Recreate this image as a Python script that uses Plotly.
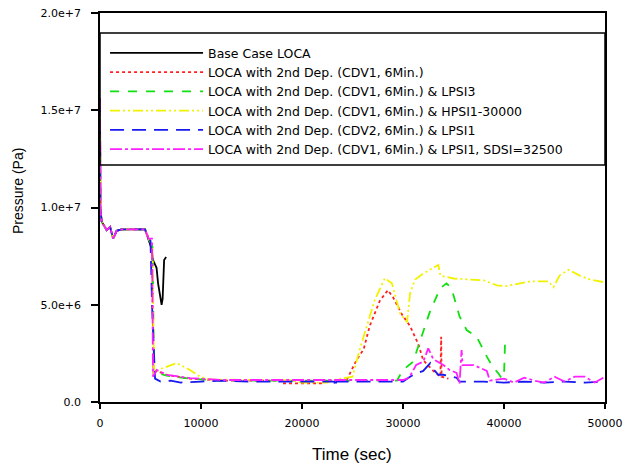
import plotly.graph_objects as go

# ---- data ----
t_init = [0, 40, 170, 660, 1000, 1300, 1650, 2150, 4455, 4800]
p_init = [1.56e7, 9.9e6, 9.27e6, 8.84e6, 9.0e6, 8.4e6, 8.8e6, 8.88e6, 8.88e6, 8.4e6]

base_t = t_init + [5100, 5250, 5600, 5750, 5950, 6100, 6200, 6350, 6550]
base_p = p_init + [7.9e6, 7.3e6, 6.9e6, 6.1e6, 5.5e6, 5.0e6, 5.3e6, 7.3e6, 7.45e6]

red_t = t_init + [5150, 5300, 5600, 6600, 8900, 12000, 18000, 18100, 22100, 22200,
                  24400, 25400, 26100, 26700, 27700, 28500, 29000, 29900, 30700, 31500,
                  32000, 33000, 33700, 33780, 33820, 34500]
red_p = p_init + [8.0e6, 1.4e6, 1.6e6, 1.4e6, 1.2e6, 1.1e6, 1.1e6, 0.96e6, 0.96e6, 1.1e6,
                  1.1e6, 2.16e6, 2.7e6, 3.9e6, 5.2e6, 5.75e6, 5.4e6, 4.5e6, 3.9e6, 3.0e6,
                  2.15e6, 1.6e6, 1.3e6, 3.35e6, 1.3e6, 1.2e6]

green_t = t_init + [5200, 5350, 5600, 6600, 8900, 12000, 29400, 30000, 31000, 31700,
                    32700, 33700, 34300, 34800, 35600, 36300, 37300, 38300, 38900, 39400,
                    39800, 40000, 40100]
green_p = p_init + [8.0e6, 1.4e6, 1.5e6, 1.35e6, 1.2e6, 1.1e6, 1.1e6, 1.65e6, 2.07e6, 3.2e6,
                    4.7e6, 5.85e6, 6.1e6, 5.85e6, 4.4e6, 3.7e6, 3.35e6, 2.33e6, 1.8e6, 1.5e6,
                    1.2e6, 1.35e6, 3.0e6]

yellow_t = t_init + [5200, 5350, 6000, 6600, 7600, 8900, 9900, 11000, 19000, 20000,
                     22500, 23000, 25000, 25700, 26400, 27200, 28200, 28900, 29700, 30400,
                     30700, 31200, 32000, 32700, 33500, 33700, 35000, 38000, 39300, 40100,
                     42600, 44400, 44900, 45500, 46400, 47500, 48500, 50000]
yellow_p = p_init + [8.0e6, 1.5e6, 1.7e6, 1.8e6, 2.0e6, 1.65e6, 1.3e6, 1.15e6, 1.12e6, 1.0e6,
                     1.0e6, 1.12e6, 1.3e6, 2.67e6, 3.87e6, 5.24e6, 6.36e6, 6.1e6, 4.57e6, 4.1e6,
                     5.6e6, 6.3e6, 6.6e6, 6.8e6, 7.05e6, 6.5e6, 6.35e6, 6.25e6, 6.0e6, 5.95e6,
                     6.2e6, 6.2e6, 5.9e6, 6.5e6, 6.8e6, 6.5e6, 6.3e6, 6.15e6]

blue_t = t_init + [5000, 5150, 5450, 6000, 7000, 8000, 10000, 12000, 15000, 20000,
                   23200, 23300, 23400, 26000, 30000, 30700, 31300, 32000, 32700, 33000,
                   33500, 34000, 35300, 35600, 38000, 40000, 42000, 44000, 46000, 48000,
                   50000]
blue_p = p_init + [8.3e6, 5.0e6, 1.2e6, 1.05e6, 1.1e6, 1.0e6, 1.05e6, 1.1e6, 1.05e6, 1.05e6,
                   1.05e6, 0.75e6, 1.05e6, 1.05e6, 1.05e6, 1.3e6, 1.47e6, 1.6e6, 2.0e6, 1.7e6,
                   1.4e6, 1.4e6, 1.25e6, 1.05e6, 1.05e6, 1.0e6, 1.05e6, 1.0e6, 1.05e6, 1.0e6,
                   1.05e6]

mag_t = t_init + [5150, 5250, 5600, 6600, 8900, 12000, 20000, 30000, 30600, 31300,
                  32000, 32500, 33000, 34000, 34600, 35300, 35600, 35800, 35900, 37000,
                  38300, 38600, 40000, 41000, 42000, 43000, 44000, 45000, 46000, 47000,
                  48000, 49000, 50000]
mag_p = p_init + [8.4e6, 1.3e6, 1.65e6, 1.4e6, 1.23e6, 1.13e6, 1.13e6, 1.13e6, 1.25e6, 1.9e6,
                  2.07e6, 2.76e6, 2.2e6, 1.9e6, 1.65e6, 1.5e6, 0.95e6, 2.67e6, 1.9e6, 1.9e6,
                  1.6e6, 1.1e6, 1.2e6, 1.0e6, 1.25e6, 1.1e6, 1.0e6, 1.3e6, 1.05e6, 1.3e6,
                  1.3e6, 1.0e6, 1.3e6]

series_names = [
    "Base Case LOCA",
    "LOCA with 2nd Dep. (CDV1, 6Min.)",
    "LOCA with 2nd Dep. (CDV1, 6Min.) & LPSI3",
    "LOCA with 2nd Dep. (CDV1, 6Min.) & HPSI1-30000",
    "LOCA with 2nd Dep. (CDV2, 6Min.) & LPSI1",
    "LOCA with 2nd Dep. (CDV1, 6Min.) & LPSI1, SDSI=32500",
]

x_ticks = [0, 10000, 20000, 30000, 40000, 50000]
x_ticklabels = ["0", "10000", "20000", "30000", "40000", "50000"]
y_ticks = [0, 5e6, 1e7, 1.5e7, 2e7]
y_ticklabels = ["0.0", "5.0e+6", "1.0e+7", "1.5e+7", "2.0e+7"]

# ---- figure ----
series = [
    (base_t, base_p, "black", "solid"),
    (red_t, red_p, "#ff2020", "dot"),
    (green_t, green_p, "#10e010", "dash"),
    (yellow_t, yellow_p, "#f2f200", "10px,3px,2px,3px,2px,3px"),
    (blue_t, blue_p, "#1818f0", "14px,8px"),
    (mag_t, mag_p, "#ff20ff", "12px,3px,3px,3px"),
]

fig = go.Figure()
for (t, p, c, d), name in zip(series, series_names):
    fig.add_trace(go.Scatter(x=t, y=p, mode="lines", name=name,
                             line=dict(color=c, width=1.8, dash=d)))

fig.add_shape(type="rect", xref="paper", yref="paper",
              x0=0, x1=1, y0=0.609, y1=0.9486,
              line=dict(color="black", width=1.5), fillcolor="rgba(0,0,0,0)",
              layer="above")

tick_font = "DejaVu Sans, sans-serif"
title_font = "Arial, Liberation Sans, sans-serif"

fig.add_annotation(text="Time (sec)", xref="paper", yref="paper",
                   x=0.499, y=-0.136, xanchor="center", yanchor="middle",
                   showarrow=False, font=dict(family=title_font, size=17, color="black"))
fig.add_annotation(text="Pressure (Pa)", xref="paper", yref="paper",
                   x=-0.1624, y=0.5424, xanchor="center", yanchor="middle",
                   textangle=-90, showarrow=False,
                   font=dict(family=title_font, size=14, color="black"))

fig.update_layout(
    width=625, height=460,
    margin=dict(l=92, r=28, t=5, b=66, autoexpand=False),
    paper_bgcolor="white", plot_bgcolor="white",
    font=dict(family=tick_font, color="black", size=11),
    showlegend=True,
    legend=dict(x=0.01, y=0.935, xanchor="left", yanchor="top",
                bgcolor="rgba(0,0,0,0)", borderwidth=0,
                font=dict(size=12.5, family=tick_font), itemwidth=93,
                tracegroupgap=0),
    xaxis=dict(range=[0, 50000], tickvals=x_ticks, ticktext=x_ticklabels,
               showgrid=False, zeroline=False, showline=True, linecolor="black",
               linewidth=1.8, mirror=True, ticks="outside", ticklen=5,
               tickcolor="black", tickwidth=1.5, tickfont=dict(size=11),
               ticklabelstandoff=5, ticklabeloverflow="allow"),
    yaxis=dict(range=[0, 2e7], tickvals=y_ticks, ticktext=y_ticklabels,
               showgrid=False, zeroline=False, showline=True, linecolor="black",
               linewidth=1.8, mirror=True, ticks="outside", ticklen=7,
               tickcolor="black", tickwidth=1.5, tickfont=dict(size=11),
               ticklabelstandoff=8, ticklabeloverflow="allow"),
)

fig.write_html("out.html")
